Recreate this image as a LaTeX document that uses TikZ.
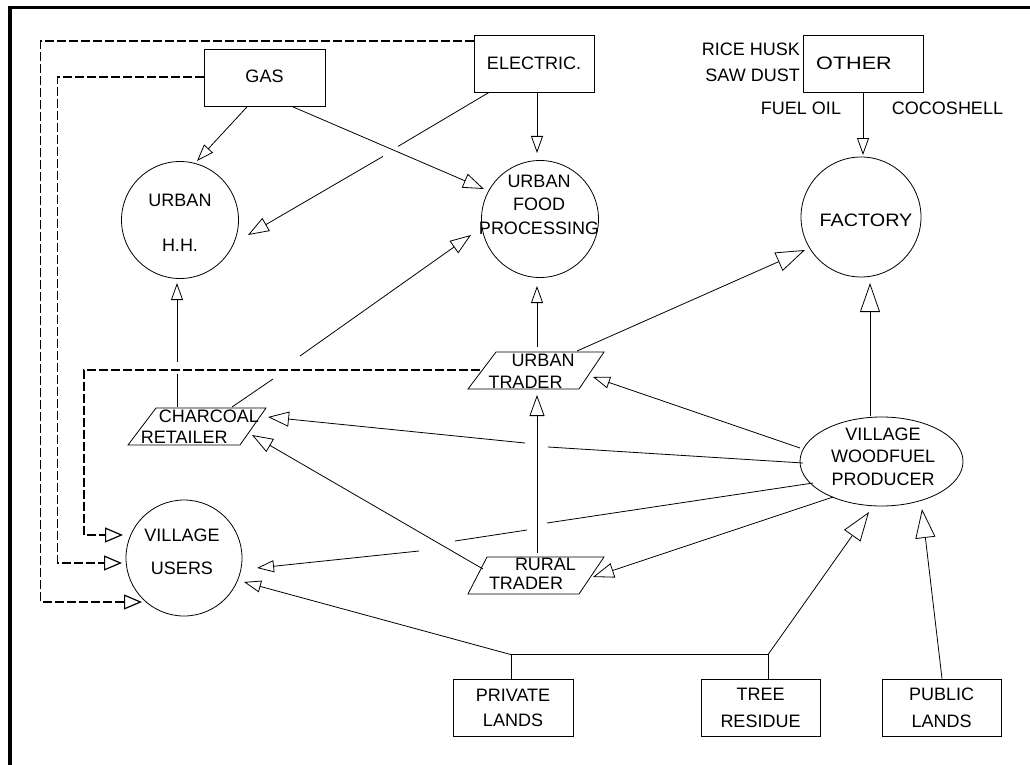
\documentclass[tikz,border=0pt]{standalone}
\usepackage{fontspec}
\usepackage{graphicx}
\setmainfont{Liberation Sans}
\usetikzlibrary{arrows.meta,shapes.geometric,calc}
\newcommand{\fs}[1]{\fontsize{18}{#1}\selectfont}
\begin{document}
\begin{tikzpicture}[x=1pt,y=-1pt,
  box/.style={draw,rectangle,line width=0.8pt,inner sep=0pt,align=center,minimum width=#1,minimum height=57pt,font=\fs{22}},
  circ/.style={draw,circle,line width=0.8pt,inner sep=0pt,minimum size=#1},
  txt/.style={inner sep=0pt,align=center,font=\fs{22}},
  txtl/.style={inner sep=0pt,align=left},
  ln/.style={line width=0.8pt},
  sa/.style={-{Triangle[open,length=17pt,width=12pt]}},
  ma/.style={-{Triangle[open,length=21pt,width=15pt]}},
  la/.style={-{Triangle[open,length=29pt,width=20pt]}},
  dsh/.style={line width=1.2pt,dash pattern=on 9pt off 3pt,-{Triangle[open,length=18pt,width=15pt]}}
]
\useasboundingbox (0,0) rectangle (1030,765);
% frame
\draw[line width=3.3pt] (10,765) -- (10,7.5) -- (1030,7.5);

% boxes
\node[box=121pt] (gas) at (264.5,78) {\raisebox{4pt}{GAS}};
\node[box=120pt] (el) at (534,63.5) {\raisebox{1.5pt}{ELECTRIC.}};
\node[box=120pt] (oth) at (863,63.5) {\hspace*{-18pt}\raisebox{1.5pt}{\scalebox{1.2}[1]{OTHER}}};
\node[txt,anchor=east] (rh) at (800,49) {RICE HUSK};
\node[txt,anchor=east] (sd) at (800,75) {SAW DUST};
\node[txt] (fo) at (801,108) {FUEL OIL};
\node[txt] (cs) at (947.5,108) {COCOSHELL};

\node[box=120pt,font=\fs{25}] (pl) at (513,707.5) {PRIVATE\\LANDS};
\node[box=119pt,font=\fs{27}] (tr) at (760.5,707.5) {TREE\\RESIDUE};
\node[box=119pt,font=\fs{27}] (pub) at (941.5,707.5) {PUBLIC\\LANDS};

% circles and ellipse
\node[circ=117pt] (hh) at (180,220) {};
\node[circ=117pt] (food) at (540,219) {};
\node[circ=120pt] (fac) at (861,217) {};
\node[circ=116pt] (vu) at (184,558) {};
\node[draw,ellipse,line width=0.8pt,inner sep=0pt,minimum width=163pt,minimum height=89pt] (wf) at (881.5,461.5) {};

\node[txt,font=\fs{45}] (hhT) at (180,222.5) {URBAN\\H.H.};
\node[txt,font=\fs{23.5}] (foodT) at (539,204.5) {URBAN\\FOOD\\PROCESSING};
\node[txt] (facT) at (866,220) {\scalebox{1.1}[1]{FACTORY}};
\node[txt,font=\fs{22.5}] (wfT) at (883,456.5) {VILLAGE\\WOODFUEL\\PRODUCER};
\node[txt,font=\fs{33}] (vuT) at (182,551.5) {VILLAGE\\USERS};

% parallelograms
\draw[ln] (468,389) -- (579,389) -- (604,352) -- (496,352) -- cycle;
\draw[ln] (128,445) -- (240,445) -- (266,408) -- (156,408) -- cycle;
\draw[ln] (468,594) -- (579,594) -- (604,557) -- (487,557) -- cycle;
\node[txtl,font=\fs{22}] (ut) at (531.5,371) {\hspace*{23pt}URBAN\\TRADER};
\node[txtl,font=\fs{21}] (cr) at (200,426.5) {\hspace*{18pt}CHARCOAL\\RETAILER};
\node[txtl,font=\fs{19}] (rt) at (532.5,573.5) {\hspace*{26pt}RURAL\\TRADER};

% connectors
\draw[ln,sa] ($(gas.south)+(-17.5,0)$) -- ($(hh)+(17,-59)$);
\draw[ln,ma] ($(el.south)+(-45,0)$) -- ($(el.south)+(-136,54)$)
   ($(el.south)+(-151,64)$) -- ($(hh)+(68,15)$);
\draw[ln,ma] ($(gas.south)+(28.5,0)$) -- ($(food)+(-56,-30)$);
\draw[ln,sa] ($(el.south)+(3,0)$) -- ($(food)+(-3,-66)$);
\draw[ln,sa] (oth.south) -- ($(fac)+(2,-62)$);

\draw[ln,sa] ($(cr)+(-23,-19.5)$) -- ($(cr)+(-23,-52.5)$)
   ($(cr)+(-23,-64.5)$) -- ($(hh)+(-3,63)$);
\draw[ln,ma] ($(cr)+(32,-19.5)$) -- ($(cr)+(73,-47.5)$)
   ($(cr)+(100,-70.5)$) -- ($(food)+(-69,16)$);
\draw[ln,sa] ($(ut)+(5.5,-24)$) -- ($(food)+(-3,67)$);
\draw[ln,la] ($(ut)+(45.5,-20)$) -- ($(fac)+(-56,33)$);
\draw[ln,ma] ($(rt)+(4.5,-20.5)$) -- ($(ut)+(5.5,24)$);
\draw[ln,sa] ($(wf)+(-81.5,-13.5)$) -- ($(ut)+(61.5,6)$);
\draw[ln,la] ($(wf)+(-11.5,-45.5)$) -- ($(fac)+(9,66)$);
\draw[ln,ma] ($(wf)+(-78.5,1.5)$) -- ($(wf)+(-333.5,-14.5)$)
   ($(wf)+(-356.5,-18.5)$) -- ($(cr)+(68,-9.5)$);
\draw[ln,sa] ($(wf)+(-68.5,21.5)$) -- ($(wf)+(-334.5,61.5)$)
   ($(wf)+(-354.5,68.5)$) -- ($(wf)+(-426.5,79.5)$)
   ($(wf)+(-462.5,89.5)$) -- ($(vu)+(73,10)$);
\draw[ln,ma] ($(rt)+(-49.5,-4.5)$) -- ($(cr)+(52,8.5)$);
\draw[ln,ma] ($(wf)+(-48.5,35.5)$) -- ($(rt)+(60.5,3.5)$);

\coordinate (j1) at ($(pl.north)+(-2,-24)$);
\coordinate (j2) at ($(tr.north)+(7.5,-24)$);
\draw[ln] ($(pl.north)+(-2,0)$) -- (j1) -- (j2) -- ($(tr.north)+(7.5,0)$);
\draw[ln,sa] (j1) -- ($(vu)+(60,24)$);
\draw[ln,la] (j2) -- ($(wf)+(-12.5,50.5)$);
\draw[ln,la] ($(pub.north)+(0.5,0)$) -- ($(wf)+(40.5,47.5)$);

% dashed feeds to village users
\draw[dsh] ($(el.west)+(0,-22.5)$) -- ++(-433,0) -- ++(0,561) -- ($(vu)+(-42,44)$);
\draw[dsh] ($(gas.west)+(0,-1)$) -- ++(-146,0) -- ++(0,486) -- ($(vu)+(-62,5)$);
\draw[dsh] ($(ut)+(-51.5,-1)$) -- ++(-396,0) -- ++(0,165) -- ($(vu)+(-61,-23)$);
\end{tikzpicture}
\end{document}
